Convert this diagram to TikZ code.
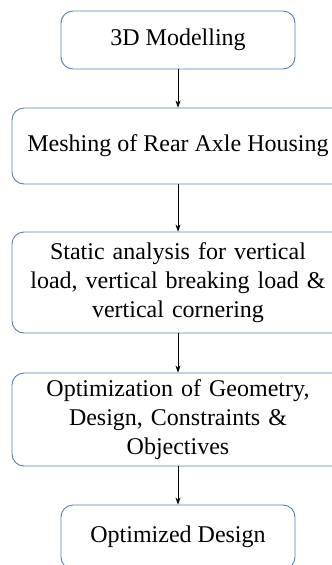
\documentclass[tikz,border=0pt]{standalone}
\usepackage{fontspec}
\setmainfont{Liberation Serif}
\usetikzlibrary{arrows.meta}

\definecolor{boxline}{HTML}{5B7DB8}

\begin{document}
\begin{tikzpicture}[x=1pt, y=-1pt,
    every node/.style={rectangle, draw=boxline, line width=0.9pt, rounded corners=12pt,
        align=center, inner sep=0pt, font=\fontsize{24}{29}\selectfont},
    link/.style={-{Stealth[length=7pt, width=5pt]}, line width=0.6pt, black}]
    \clip (0,0) rectangle (332,565);
    \node[minimum width=234pt, minimum height=58pt] (model) at (178,40) {3D Modelling};
    \node[minimum width=332pt, minimum height=76pt] (mesh) at (178,146) {Meshing of Rear Axle Housing};
    \node[minimum width=332pt, minimum height=101pt, text width=325pt] (static) at (178,282.5)
        {Static analysis for vertical\\ load, vertical breaking load \&\\ vertical cornering};
    \node[minimum width=332pt, minimum height=93pt, text width=325pt] (optim) at (178,419.5)
        {Optimization of Geometry,\\ Design, Constraints \&\\ Objectives};
    \node[minimum width=234pt, minimum height=64pt] (final) at (178,537) {Optimized Design};
    \draw[link] (model) -- (mesh);
    \draw[link] (mesh) -- (static);
    \draw[link] (static) -- (optim);
    \draw[link] (optim) -- (final);
\end{tikzpicture}
\end{document}
